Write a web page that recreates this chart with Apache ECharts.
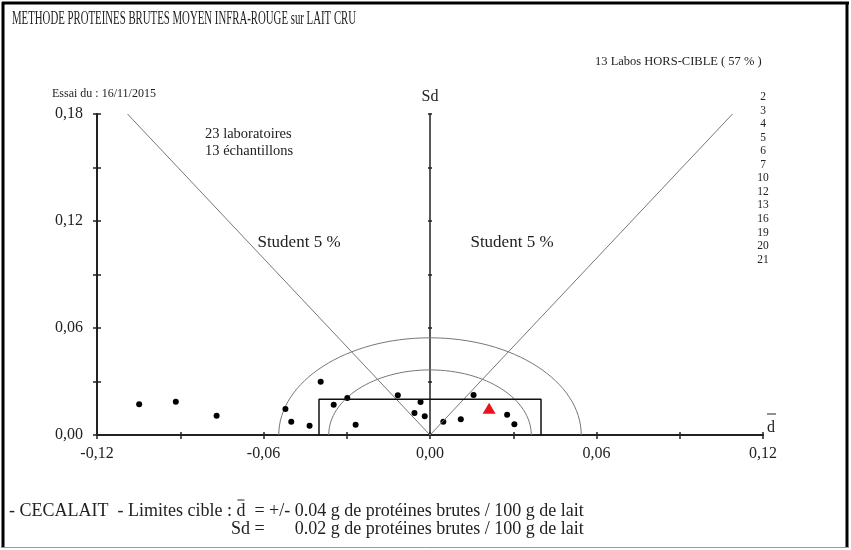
<!DOCTYPE html>
<html>
<head>
<meta charset="utf-8">
<script src="https://cdn.jsdelivr.net/npm/echarts@6/dist/echarts.min.js"></script>
<style>
  html, body { margin: 0; padding: 0; background: #fff; }
  #chart { width: 851px; height: 550px; }
</style>
</head>
<body>
<div id="chart"></div>
<script>
// ecart moyen (d) et ecart-type (Sd) de chaque labo
const labPoints = [
  [-0.1048, 0.0172], [-0.0916, 0.0187], [-0.0769, 0.0108], [-0.0521, 0.0146],
  [-0.0500, 0.0075], [-0.0434, 0.0052], [-0.0394, 0.0299], [-0.0347, 0.0170],
  [-0.0298, 0.0208], [-0.0268, 0.0058], [-0.0116, 0.0223], [-0.0034, 0.0185],
  [-0.0056, 0.0123], [-0.0019, 0.0105], [0.0048, 0.0075], [0.0111, 0.0088],
  [0.0157, 0.0224], [0.0278, 0.0114], [0.0304, 0.0060]
];
const cecalaitPoint = [[0.0213, 0.0150]];
const targetBox = [[-0.04, 0], [-0.04, 0.02], [0.04, 0.02], [0.04, 0]];
const studentLeft = [[0, 0], [-0.109, 0.18]];
const studentRight = [[0, 0], [0.109, 0.18]];
const arcRadii = [0.0365, 0.0545];
const labsHorsCible = ['2', '3', '4', '5', '6', '7', '10', '12', '13', '16', '19', '20', '21'];

const serif = 'Liberation Serif';
const txt = '#222';

const chart = echarts.init(document.getElementById('chart'));

function fmt(v) {
  if (Math.round(v * 100) % 6 !== 0) return '';
  return v.toFixed(2).replace('.', ',');
}

// mesure du texte pour caler la legende du bas
const ctx = document.createElement('canvas').getContext('2d');
const footFont = '18px ' + serif;
ctx.font = footFont;
const tw = s => ctx.measureText(s).width;

const footX = 9;
const partA = '- CECALAIT  - Limites cible : ';
const dX = footX + tw(partA);
const eqX = dX + tw('d  ');
const valX = eqX + tw('= +/- ');

const xBase = {
  type: 'value', min: -0.12, max: 0.12, interval: 0.03, position: 'bottom',
  splitLine: { show: false }
};
const yBase = {
  type: 'value', min: 0, max: 0.18, interval: 0.03, position: 'left',
  splitLine: { show: false }
};

function label(x, y, text, size, extra) {
  return {
    type: 'text', x: x, y: y,
    style: Object.assign({ text: text, font: size + 'px ' + serif, fill: txt, verticalAlign: 'middle' }, extra || {})
  };
}

const graphics = [
  { type: 'line', shape: { x1: 3, y1: 2, x2: 3, y2: 548 }, style: { stroke: '#000', lineWidth: 3 } },
  { type: 'line', shape: { x1: 2, y1: 3, x2: 849, y2: 3 }, style: { stroke: '#000', lineWidth: 3 } },
  { type: 'line', shape: { x1: 847, y1: 2, x2: 847, y2: 548 }, style: { stroke: '#000', lineWidth: 3 } },
  { type: 'line', shape: { x1: 2, y1: 547.5, x2: 849, y2: 547.5 }, style: { stroke: '#999', lineWidth: 1 } },
  Object.assign(label(12, 19, 'METHODE PROTEINES BRUTES MOYEN INFRA-ROUGE sur LAIT CRU', 18), { scaleX: 0.6, originX: 0 }),
  label(595, 62, '13 Labos HORS-CIBLE ( 57 % )', 12.5),
  label(52, 94, 'Essai du : 16/11/2015', 12),
  label(205, 134, '23 laboratoires', 14.5),
  label(205, 151, '13 échantillons', 14.5),
  label(430, 97, 'Sd', 16, { align: 'center' }),
  label(299, 243, 'Student 5 %', 17, { align: 'center' }),
  label(512, 243, 'Student 5 %', 17, { align: 'center' }),
  label(771, 428, 'd', 16, { align: 'center' }),
  { type: 'line', shape: { x1: 767, y1: 414, x2: 776, y2: 414 }, style: { stroke: txt, lineWidth: 1 } },
  label(footX, 511, partA + 'd  = +/- ', 18),
  { type: 'line', shape: { x1: dX + 1, y1: 500, x2: dX + tw('d') - 1, y2: 500 }, style: { stroke: txt, lineWidth: 1 } },
  label(valX, 511, '0.04 g de protéines brutes / 100 g de lait', 18),
  label(eqX - tw(' '), 529, 'Sd', 18, { align: 'right' }),
  label(eqX, 529, '=', 18),
  label(valX, 529, '0.02 g de protéines brutes / 100 g de lait', 18)
];
labsHorsCible.forEach((lab, i) => {
  graphics.push(label(763, 97 + i * 13.55, lab, 11.5, { align: 'center' }));
});

const option = {
  backgroundColor: '#fff',
  animation: false,
  grid: { left: 97, right: 88, top: 114, bottom: 115, containLabel: false },
  xAxis: [
    Object.assign({}, xBase, {
      axisLine: { onZero: false, lineStyle: { color: '#222', width: 2 } },
      axisTick: { inside: false, length: 4, lineStyle: { color: '#222', width: 1.5 } },
      axisLabel: { formatter: fmt, margin: 11, fontFamily: serif, fontSize: 16, color: txt, showMinLabel: true, showMaxLabel: true }
    }),
    Object.assign({}, xBase, {
      axisLine: { show: false, onZero: false },
      axisTick: { inside: true, length: 3, lineStyle: { color: '#222', width: 1.5 } },
      axisLabel: { show: false }
    })
  ],
  yAxis: [
    Object.assign({}, yBase, {
      axisLine: { onZero: false, lineStyle: { color: '#222', width: 2 } },
      axisTick: { inside: false, length: 4, lineStyle: { color: '#222', width: 1.5 } },
      axisLabel: { formatter: fmt, margin: 14, fontFamily: serif, fontSize: 16, color: txt, showMinLabel: true, showMaxLabel: true }
    }),
    Object.assign({}, yBase, {
      axisLine: { show: false, onZero: false },
      axisTick: { inside: true, length: 4, lineStyle: { color: '#222', width: 1.5 } },
      axisLabel: { show: false }
    }),
    // axe central Sd sur d = 0
    Object.assign({}, yBase, {
      axisLine: { onZero: true, onZeroAxisIndex: 0, lineStyle: { color: '#222', width: 1.5 } },
      axisTick: { inside: false, length: 2, lineStyle: { color: '#222', width: 1.5 } },
      axisLabel: { show: false }
    }),
    Object.assign({}, yBase, {
      axisLine: { show: false, onZero: true, onZeroAxisIndex: 0 },
      axisTick: { inside: true, length: 2, lineStyle: { color: '#222', width: 1.5 } },
      axisLabel: { show: false }
    })
  ],
  series: [
    {
      type: 'custom', clip: true, silent: true,
      data: arcRadii.map(r => [0, 0, r]),
      renderItem: function (params, api) {
        const c = api.coord([api.value(0), api.value(1)]);
        const r = api.value(2);
        const rx = api.size([r, 0])[0];
        const ry = api.size([0, r])[1];
        return {
          type: 'ellipse',
          shape: { cx: c[0], cy: c[1], rx: rx, ry: ry },
          style: { fill: 'none', stroke: '#777', lineWidth: 1 }
        };
      }
    },
    {
      type: 'line', data: studentLeft, symbol: 'none', silent: true,
      lineStyle: { color: '#777', width: 1 }
    },
    {
      type: 'line', data: studentRight, symbol: 'none', silent: true,
      lineStyle: { color: '#777', width: 1 }
    },
    {
      type: 'line', data: targetBox, symbol: 'none', silent: true,
      lineStyle: { color: '#111', width: 1.5 }
    },
    {
      type: 'scatter', data: labPoints, symbol: 'circle', symbolSize: 6,
      itemStyle: { color: '#000', opacity: 1 }
    },
    {
      type: 'scatter', data: cecalaitPoint, symbol: 'triangle', symbolSize: [13, 11],
      itemStyle: { color: '#e8141b', opacity: 1 }
    }
  ],
  graphic: graphics
};

chart.setOption(option);
</script>
</body>
</html>
